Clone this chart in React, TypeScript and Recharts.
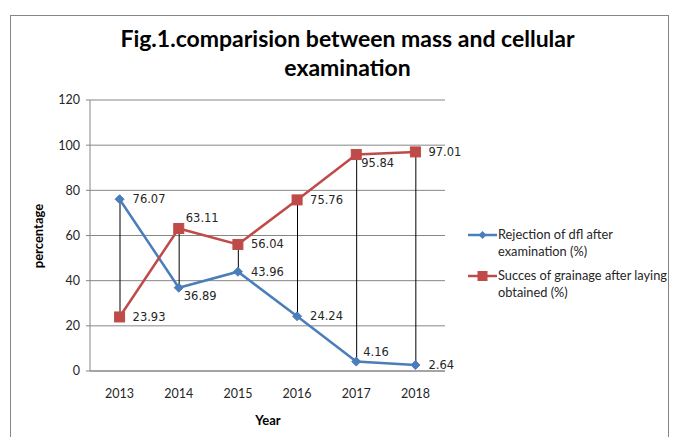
import React from 'react';
import { ComposedChart, Line, Bar, XAxis, YAxis, CartesianGrid } from 'recharts';

const years = ['2013', '2014', '2015', '2016', '2017', '2018'];
const rejection = [76.07, 36.89, 43.96, 24.24, 4.16, 2.64];
const success = [23.93, 63.11, 56.04, 75.76, 95.84, 97.01];
const yTicks = [0, 20, 40, 60, 80, 100, 120];

const rejectionLabelPos = ['right', 'below', 'right', 'right', 'above', 'right'];
const successLabelPos = ['right', 'above', 'right', 'right', 'below', 'right'];

const data = years.map((y, i) => ({
  year: y,
  rejection: rejection[i],
  success: success[i],
  range: [Math.min(rejection[i], success[i]), Math.max(rejection[i], success[i])],
}));

const BLUE = '#4A7EBB';
const RED = '#BE4B48';
const GRID = '#868686';
const FONT = 'Lato, "Liberation Sans", sans-serif';
const LABEL_FONT = '"DejaVu Sans", sans-serif';

const Diamond = (props: any) => {
  const { cx, cy } = props;
  if (cx == null || cy == null) return null;
  const r = 4.5;
  return (
    <polygon
      points={`${cx},${cy - r} ${cx + r},${cy} ${cx},${cy + r} ${cx - r},${cy}`}
      fill={BLUE}
      stroke={BLUE}
    />
  );
};

const Square = (props: any) => {
  const { cx, cy } = props;
  if (cx == null || cy == null) return null;
  const s = 10;
  return <rect x={cx - s / 2} y={cy - s / 2} width={s} height={s} fill={RED} stroke={RED} />;
};

const makeLabel = (positions: string[]) => (props: any) => {
  const { x, y, value, index } = props;
  const pos = positions[index];
  let dx = 13;
  let dy = 0;
  if (pos === 'above') { dx = 7; dy = -10; }
  if (pos === 'below') { dx = 5; dy = 8; }
  return (
    <text
      x={x + dx}
      y={y + dy}
      dominantBaseline="central"
      fontSize={11.5}
      fontFamily={LABEL_FONT}
      fill="#262626"
    >
      {Number(value).toFixed(2)}
    </text>
  );
};

const DropLine = (props: any) => {
  const { x, y, width, height } = props;
  if (x == null || y == null) return null;
  const cx = x + width / 2;
  return <line x1={cx} x2={cx} y1={y} y2={y + height} stroke="#000" strokeWidth={1} />;
};

export default function App() {
  return (
    <div style={{ position: 'absolute', left: 0, top: 0, width: 677, height: 437, background: '#fff', fontFamily: FONT }}>
      <div
        style={{
          position: 'absolute', left: 10, top: 15, width: 659, height: 440,
          border: '1px solid #868686', boxSizing: 'border-box',
        }}
      />
      <div
        style={{
          position: 'absolute', left: 90, width: 515, top: 24, textAlign: 'center',
          fontWeight: 'bold', fontSize: 23, lineHeight: '29px', color: '#000', fontFamily: FONT,
        }}
      >
        Fig.1.comparision between mass and cellular<br />examination
      </div>
      <ComposedChart
        width={677}
        height={437}
        data={data}
        margin={{ top: 100, right: 232, bottom: 36, left: 40 }}
        style={{ position: 'absolute', left: 0, top: 0 }}
      >
        <CartesianGrid vertical={false} stroke={GRID} strokeWidth={1} />
        <XAxis
          dataKey="year"
          axisLine={{ stroke: GRID }}
          tickLine={false}
          tick={{ fill: '#262626', fontSize: 12.5, fontFamily: FONT }}
          tickMargin={12}
          height={30}
        />
        <YAxis
          domain={[0, 120]}
          ticks={yTicks}
          width={50}
          axisLine={{ stroke: GRID }}
          tickLine={{ stroke: GRID }}
          tickSize={4}
          tick={{ fill: '#262626', fontSize: 12.5, fontFamily: FONT }}
          tickMargin={6}
        />
        <Bar dataKey="range" shape={<DropLine />} isAnimationActive={false} barSize={10} />
        <Line
          dataKey="rejection"
          stroke={BLUE}
          strokeWidth={2.5}
          dot={<Diamond />}
          activeDot={false}
          label={makeLabel(rejectionLabelPos)}
          isAnimationActive={false}
        />
        <Line
          dataKey="success"
          stroke={RED}
          strokeWidth={2.5}
          dot={<Square />}
          activeDot={false}
          label={makeLabel(successLabelPos)}
          isAnimationActive={false}
        />
        <text x={268} y={420} textAnchor="middle" dominantBaseline="central" fontWeight="bold" fontSize={13} fontFamily={FONT} fill="#000">
          Year
        </text>
        <text
          x={38}
          y={236}
          textAnchor="middle"
          dominantBaseline="central"
          fontWeight="bold"
          fontSize={13}
          fontFamily={FONT}
          fill="#000"
          transform="rotate(-90 38 236)"
        >
          percentage
        </text>
      </ComposedChart>
      <div style={{ position: 'absolute', left: 468, top: 226, fontSize: 12.8, lineHeight: '17px', color: '#262626', fontFamily: FONT }}>
        <div style={{ display: 'flex', alignItems: 'flex-start' }}>
          <svg width={30} height={17} style={{ flex: 'none' }}>
            <line x1={0} x2={29} y1={9} y2={9} stroke={BLUE} strokeWidth={2.5} />
            <polygon points="14.5,5 18.5,9 14.5,13 10.5,9" fill={BLUE} />
          </svg>
          <div>Rejection of dfl after<br />examination (%)</div>
        </div>
        <div style={{ display: 'flex', alignItems: 'flex-start', marginTop: 7 }}>
          <svg width={30} height={17} style={{ flex: 'none' }}>
            <line x1={0} x2={29} y1={9} y2={9} stroke={RED} strokeWidth={2.5} />
            <rect x={9.5} y={4} width={10} height={10} fill={RED} />
          </svg>
          <div>Succes of grainage after laying<br />obtained (%)</div>
        </div>
      </div>
    </div>
  );
}
